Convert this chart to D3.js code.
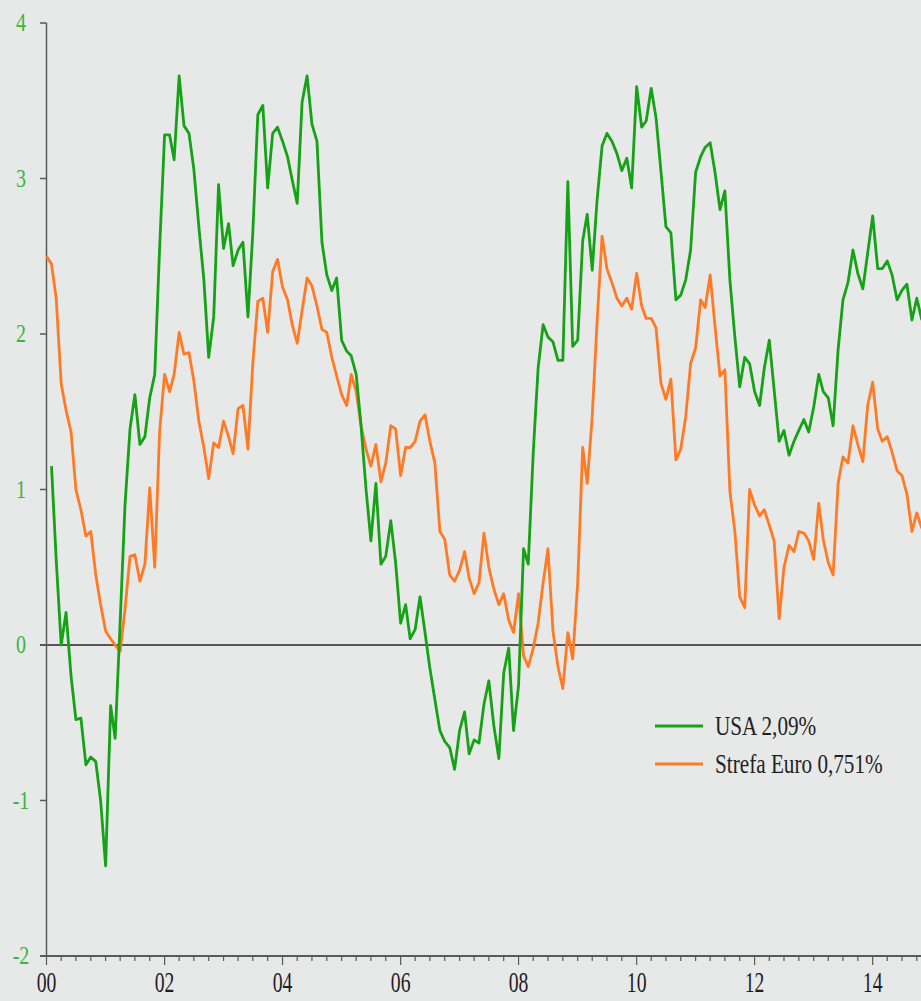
<!DOCTYPE html>
<html>
<head>
<meta charset="utf-8">
<script src="https://cdn.jsdelivr.net/npm/d3@7"></script>
<style>
  html, body { margin: 0; padding: 0; background: #e7e8e8; }
  svg { display: block; }
  text { font-family: "Liberation Serif", "DejaVu Serif", serif; }
</style>
</head>
<body>
<svg id="chart" width="921" height="1001"></svg>
<script>
// Monthly readings, January 2000 onward
const startMonth = new Date(2000, 0, 1);

// USA series begins in February 2000
const usaStartOffset = 1;
const usaValues = [
  1.15, 0.55, 0.0, 0.21, -0.2, -0.48, -0.47, -0.77, -0.72, -0.75, -1.0,
  -1.42, -0.39, -0.6, 0.15, 0.9, 1.39, 1.61, 1.29, 1.34, 1.59, 1.74, 2.55,
  3.28, 3.28, 3.12, 3.66, 3.34, 3.29, 3.06, 2.69, 2.35, 1.85, 2.11, 2.96,
  2.55, 2.71, 2.44, 2.54, 2.59, 2.11, 2.65, 3.41, 3.47, 2.94, 3.29, 3.33,
  3.24, 3.14, 2.99, 2.84, 3.49, 3.66, 3.35, 3.24, 2.59, 2.38, 2.28, 2.36,
  1.96, 1.89, 1.86, 1.74, 1.41, 1.0, 0.67, 1.04, 0.52, 0.57, 0.8, 0.53,
  0.14, 0.26, 0.04, 0.1, 0.31, 0.08, -0.15, -0.35, -0.55, -0.62, -0.66, -0.8,
  -0.55, -0.43, -0.7, -0.61, -0.63, -0.38, -0.23, -0.52, -0.73, -0.18, -0.02, -0.55,
  -0.26, 0.62, 0.52, 1.24, 1.78, 2.06, 1.98, 1.95, 1.83, 1.83, 2.98, 1.92,
  1.96, 2.6, 2.77, 2.41, 2.86, 3.21, 3.29, 3.24, 3.16, 3.05, 3.13, 2.94,
  3.59, 3.33, 3.37, 3.58, 3.39, 3.04, 2.69, 2.65, 2.22, 2.25, 2.35, 2.54,
  3.04, 3.14, 3.2, 3.23, 3.04, 2.8, 2.92, 2.35, 1.98, 1.66, 1.85, 1.81,
  1.63, 1.54, 1.78, 1.96, 1.64, 1.31, 1.38, 1.22, 1.31, 1.38, 1.45, 1.37,
  1.53, 1.74, 1.63, 1.59, 1.41, 1.9, 2.22, 2.33, 2.54, 2.39, 2.29, 2.52,
  2.76, 2.42, 2.42, 2.47, 2.38, 2.22, 2.28, 2.32, 2.09, 2.23, 2.09
];

// Euro area series begins in January 2000
const euroStartOffset = 0;
const euroValues = [
  2.5, 2.45, 2.23, 1.68, 1.51, 1.37, 1.0, 0.87, 0.7, 0.73, 0.45, 0.26,
  0.09, 0.04, 0.0, -0.04, 0.23, 0.57, 0.58, 0.41, 0.52, 1.01, 0.5, 1.37,
  1.74, 1.63, 1.74, 2.01, 1.87, 1.88, 1.7, 1.44, 1.27, 1.07, 1.3, 1.27,
  1.44, 1.34, 1.23, 1.52, 1.54, 1.26, 1.81, 2.21, 2.23, 2.01, 2.4, 2.48,
  2.3, 2.22, 2.06, 1.94, 2.15, 2.36, 2.31, 2.18, 2.03, 2.01, 1.85, 1.73,
  1.61, 1.54, 1.74, 1.63, 1.41, 1.26, 1.15, 1.29, 1.05, 1.17, 1.41, 1.39,
  1.09, 1.27, 1.27, 1.31, 1.44, 1.48, 1.31, 1.17, 0.73, 0.68, 0.45, 0.41,
  0.48, 0.6, 0.43, 0.33, 0.4, 0.72, 0.5, 0.36, 0.26, 0.33, 0.16, 0.08,
  0.33, -0.07, -0.14, -0.02, 0.14, 0.4, 0.62, 0.09, -0.14, -0.28, 0.08, -0.09,
  0.4, 1.27, 1.04, 1.47, 2.08, 2.63, 2.42, 2.33, 2.23, 2.18, 2.23, 2.16,
  2.39, 2.18, 2.1, 2.1, 2.04, 1.68, 1.58, 1.71, 1.19, 1.26, 1.47, 1.81,
  1.91, 2.22, 2.17, 2.38, 2.05, 1.73, 1.77, 0.99, 0.73, 0.31, 0.24, 1.0,
  0.9, 0.83, 0.87, 0.77, 0.67, 0.17, 0.5, 0.64, 0.6, 0.73, 0.72, 0.67,
  0.55, 0.91, 0.68, 0.53, 0.45, 1.04, 1.21, 1.17, 1.41, 1.29, 1.18, 1.54,
  1.69, 1.39, 1.31, 1.34, 1.24, 1.12, 1.09, 0.97, 0.73, 0.85, 0.751
];

const yTicks = [-2, -1, 0, 1, 2, 3, 4];
const xTickYears = [2000, 2002, 2004, 2006, 2008, 2010, 2012, 2014];
const seriesNames = ["USA 2,09%", "Strefa Euro 0,751%"];
const seriesColors = ["#16a216", "#ff7a25"];

const toPoints = (vals, offset) =>
  vals.map((v, i) => ({ date: d3.timeMonth.offset(startMonth, i + offset), value: v }));
const usa = toPoints(usaValues, usaStartOffset);
const euro = toPoints(euroValues, euroStartOffset);

const svg = d3.select("#chart");
const W = 921, H = 1001;

svg.append("rect").attr("width", W).attr("height", H).attr("fill", "#e7e8e8");

const x = d3.scaleTime()
  .domain([startMonth, new Date(2014, 10, 1)])
  .range([46.5, 921.8]);
const y = d3.scaleLinear().domain([-2, 4]).range([956, 23]);

const axisColor = "#5a5a5a";

// Left axis
const yAxis = svg.append("g");
yAxis.append("line")
  .attr("x1", 46.5).attr("x2", 46.5)
  .attr("y1", y(4)).attr("y2", y(-2))
  .attr("stroke", axisColor).attr("stroke-width", 1.5);
yAxis.selectAll("line.tick").data(yTicks).join("line")
  .attr("class", "tick")
  .attr("x1", 40).attr("x2", 46.5)
  .attr("y1", d => y(d)).attr("y2", d => y(d))
  .attr("stroke", axisColor).attr("stroke-width", 1.5);
yAxis.selectAll("text").data(yTicks).join("text")
  .attr("transform", d => `translate(21,${y(d) + 8}) scale(0.8,1)`)
  .attr("text-anchor", "middle")
  .attr("font-size", 25)
  .attr("fill", "#3cb43c")
  .text(d => d);

// Bottom axis
const xAxis = svg.append("g");
xAxis.append("line")
  .attr("x1", 40).attr("x2", W)
  .attr("y1", y(-2)).attr("y2", y(-2))
  .attr("stroke", axisColor).attr("stroke-width", 2);
const quarterTicks = d3.timeMonth.every(3).range(startMonth, new Date(2014, 11, 1));
xAxis.selectAll("line.minor").data(quarterTicks).join("line")
  .attr("class", "minor")
  .attr("x1", d => x(d)).attr("x2", d => x(d))
  .attr("y1", y(-2)).attr("y2", d => y(-2) + (d.getMonth() === 0 && d.getFullYear() % 2 === 0 ? 9 : 5))
  .attr("stroke", axisColor).attr("stroke-width", 1.2);
xAxis.selectAll("text").data(xTickYears).join("text")
  .attr("transform", d => `translate(${x(new Date(d, 0, 1))},${992}) scale(0.68,1)`)
  .attr("text-anchor", "middle")
  .attr("font-size", 29)
  .attr("fill", "#1e1e1e")
  .text(d => d3.timeFormat("%y")(new Date(d, 0, 1)));

// Zero line
svg.append("line")
  .attr("x1", 40).attr("x2", W)
  .attr("y1", y(0)).attr("y2", y(0))
  .attr("stroke", "#555").attr("stroke-width", 2);

// Series lines
const line = d3.line().x(d => x(d.date)).y(d => y(d.value));
svg.append("path").datum(euro)
  .attr("fill", "none").attr("stroke", seriesColors[1])
  .attr("stroke-width", 2.8).attr("stroke-linejoin", "round")
  .attr("d", line);
svg.append("path").datum(usa)
  .attr("fill", "none").attr("stroke", seriesColors[0])
  .attr("stroke-width", 2.8).attr("stroke-linejoin", "round")
  .attr("d", line);

// Legend
const legend = svg.append("g");
seriesNames.forEach((name, i) => {
  const ly = 726 + i * 38;
  legend.append("line")
    .attr("x1", 655).attr("x2", 703)
    .attr("y1", ly).attr("y2", ly)
    .attr("stroke", seriesColors[i]).attr("stroke-width", 3);
  legend.append("text")
    .attr("transform", `translate(715,${ly + 9}) scale(0.8,1)`)
    .attr("font-size", 26.5)
    .attr("fill", "#222")
    .text(name);
});
</script>
</body>
</html>
